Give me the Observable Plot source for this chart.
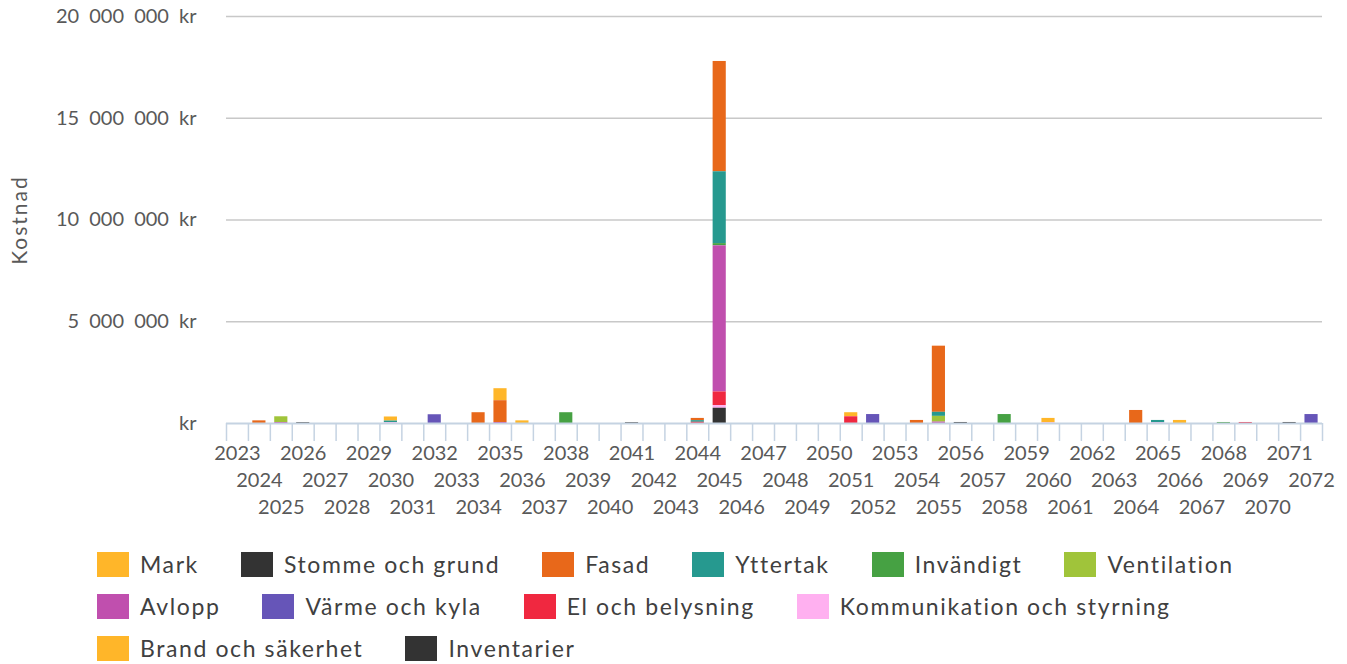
<!DOCTYPE html>
<html><head><meta charset="utf-8">
<script src="https://cdn.jsdelivr.net/npm/d3@7"></script>
<script src="https://cdn.jsdelivr.net/npm/@observablehq/plot@0.6"></script>
<style>
body{margin:0;background:#fff;font-family:Lato,"Open Sans",sans-serif;}
#chart svg{display:block}
#chart g[aria-label="y-axis tick label"] text{word-spacing:5px;}
.legend{display:flex;flex-wrap:wrap;width:1180px;margin-left:97px;margin-top:27px;row-gap:17px;column-gap:42px;}
.item{display:flex;align-items:center;font-size:23px;letter-spacing:1.6px;line-height:25px;color:#404040;}
.sw{width:32px;height:25px;margin-right:11px;flex:none;}
</style></head><body>
<div id="chart"></div>
<div class="legend" id="legend"></div>
<script>
// Categories, legend order (stacked bottom-up in reverse order)
const categories = ["Mark","Stomme och grund","Fasad","Yttertak","Invändigt","Ventilation","Avlopp","Värme och kyla","El och belysning","Kommunikation och styrning","Brand och säkerhet","Inventarier"];
const colors = ["#FFB629","#333333","#E8681A","#26998F","#46A143","#A0C43A","#C04FAE","#6655B8","#F02840","#FFB0F0","#FFB629","#333333"];
const years = d3.range(2023, 2073);
const yTicks = [0, 5000000, 10000000, 15000000, 20000000];

// Series values [year, kr]
const mark = [[2030,200000],[2035,590000],[2051,200000],[2060,220000]];
const stomme = [];
const fasad = [[2024,130000],[2034,530000],[2035,1070000],[2044,110000],[2045,5420000],[2054,150000],[2055,3250000],[2064,640000]];
const yttertak = [[2030,80000],[2044,80000],[2045,3530000],[2055,200000],[2065,120000]];
const invandigt = [[2038,530000],[2045,110000],[2058,440000],[2068,50000]];
const ventilation = [[2025,280000],[2055,280000]];
const avlopp = [[2025,50000],[2035,50000],[2045,7180000],[2055,70000]];
const varme = [[2032,430000],[2052,440000],[2072,440000]];
const el = [[2044,60000],[2045,670000],[2051,330000],[2069,50000]];
const kommunikation = [[2030,40000],[2045,130000],[2060,30000],[2065,30000]];
const brand = [[2036,130000],[2066,150000]];
const inventarier = [[2026,40000],[2041,40000],[2045,750000],[2056,50000],[2071,50000]];
const seriesList = [mark, stomme, fasad, yttertak, invandigt, ventilation, avlopp, varme, el, kommunikation, brand, inventarier];

const data = [];
categories.forEach((c, i) => seriesList[i].forEach(([year, value]) => data.push({year, category: c, value})));
const stackOrder = categories.slice().reverse();

const W = 1347, H = 525, mL = 226, mR = 25, mT = 16, mB = 102;
const step = (W - mL - mR) / years.length;
const txt = "#595959", axisCol = "#c5d3e2";
const fmt = d => d === 0 ? "kr" : d3.format(",")(d).replace(/,/g, " ") + " kr";

const chart = Plot.plot({
  width: W, height: H,
  marginLeft: mL, marginRight: mR, marginTop: mT, marginBottom: mB,
  style: {fontFamily: 'Lato, "Open Sans", sans-serif', fontSize: "20px", background: "#fff", color: txt},
  x: {type: "band", domain: years, paddingInner: 0.4, paddingOuter: 0.2, round: false, axis: null, label: null},
  y: {domain: [0, 20000000], axis: null, label: null},
  color: {domain: categories, range: colors},
  marks: [
    Plot.gridY(yTicks.slice(1), {stroke: "#c8c8c8", strokeOpacity: 1, strokeWidth: 1.5}),
    Plot.axisY(yTicks, {tickSize: 0, tickPadding: 30, tickFormat: fmt, fill: txt, fontSize: 20, label: null}),
    Plot.barY(data, {x: "year", y: "value", fill: "category", order: stackOrder}),
    Plot.ruleY([0], {stroke: axisCol, strokeWidth: 2}),
    Plot.axisX({ticks: years, tickSize: 18, tickFormat: () => "", stroke: axisCol, strokeWidth: 1.5, dx: -step / 2, label: null}),
    Plot.axisX({ticks: [years[years.length - 1]], tickSize: 18, tickFormat: () => "", stroke: axisCol, strokeWidth: 1.5, dx: step / 2, label: null}),
    ...[0, 1, 2].map(r => Plot.text(years.filter((_, i) => i % 3 === r), {
      x: d => d, text: d => String(d), frameAnchor: "bottom", lineAnchor: "middle",
      dy: 30 + r * 27, fontSize: 20, fill: txt
    })),
    Plot.text(["Kostnad"], {text: d => d, frameAnchor: "left", textAnchor: "middle", dx: -206, rotate: -90, fontSize: 21, fill: txt, style: "letter-spacing:2px"})
  ]
});
document.getElementById("chart").appendChild(chart);
chart.querySelectorAll("text").forEach(t => { if (t.textContent === "Kostnad") t.style.letterSpacing = "2px"; });

const legend = document.getElementById("legend");
categories.forEach((c, i) => {
  const item = document.createElement("div");
  item.className = "item";
  const sw = document.createElement("span");
  sw.className = "sw";
  sw.style.background = colors[i];
  const label = document.createElement("span");
  label.textContent = c;
  item.appendChild(sw);
  item.appendChild(label);
  legend.appendChild(item);
});
</script>
</body></html>
